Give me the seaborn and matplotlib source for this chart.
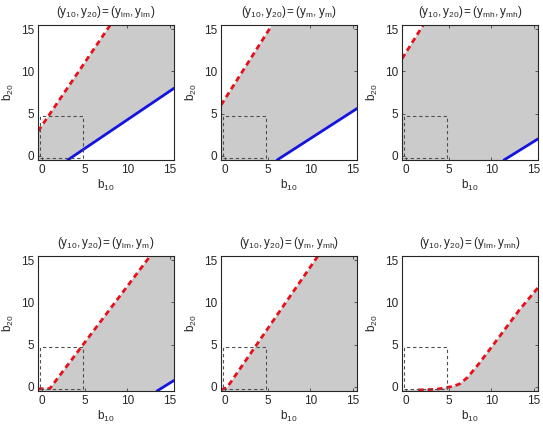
import numpy as np
import matplotlib
matplotlib.use("Agg")
import matplotlib.pyplot as plt
import seaborn as sns

# panel titles (subscripted)
titles = [
    r"$\mathregular{(y_{10},y_{20})=(y_{lm},y_{lm})}$",
    r"$\mathregular{(y_{10},y_{20})=(y_{m},y_{m})}$",
    r"$\mathregular{(y_{10},y_{20})=(y_{mh},y_{mh})}$",
    r"$\mathregular{(y_{10},y_{20})=(y_{lm},y_{m})}$",
    r"$\mathregular{(y_{10},y_{20})=(y_{m},y_{mh})}$",
    r"$\mathregular{(y_{10},y_{20})=(y_{lm},y_{mh})}$",
]

# red dashed boundary (upper side of gray region)
red_x = [
    [-0.5, 8.0],
    [-0.5, 5.5],
    [-0.5, 2.0],
    [-0.5, 0.9, 12.7],
    [-0.5, 0.2, 10.9],
    [1.4, 3.5, 4.7, 5.6, 6.3, 7.2, 8.6, 10.95, 13.3, 15.5],
]
red_y = [
    [2.9, 15.5],
    [6.0, 15.5],
    [11.5, 15.5],
    [-0.25, -0.2, 15.5],
    [-0.35, -0.1, 15.5],
    [-0.38, -0.3, -0.1, 0.08, 0.35, 1.1, 2.8, 5.93, 9.1, 11.75],
]

# blue solid boundary (lower side of gray region), None where absent
blue_x = [[3.0, 15.5], [6.1, 15.5], [11.5, 15.5], [13.5, 15.5], None, None]
blue_y = [[-0.5, 8.0], [-0.5, 5.6], [-0.5, 2.0], [-0.5, 0.75], None, None]

# dashed reference square
box_x = [-0.25, 4.75, 4.75, -0.25, -0.25]
box_y = [-0.25, -0.25, 4.75, 4.75, -0.25]

ticks = [0, 5, 10, 15]

sns.set_theme(style="white")
plt.rcParams["font.family"] = ["Liberation Sans", "DejaVu Sans"]
plt.rcParams["mathtext.fontset"] = "custom"
plt.rcParams["mathtext.rm"] = "Liberation Sans"
plt.rcParams["mathtext.it"] = "Liberation Sans:italic"

GRAY = "#cbcbcb"
RED = "#e8101a"
BLUE = "#1414e0"

fig = plt.figure(figsize=(5.43, 4.24), dpi=100)
lefts = [38 / 543, 221 / 543, 402 / 543]
bottoms = [1 - 160 / 424, 1 - 391 / 424]
W, H = 136 / 543, 135 / 424

for i in range(6):
    r, c = divmod(i, 3)
    ax = fig.add_axes([lefts[c], bottoms[r], W, H])
    ax.set_facecolor(GRAY)

    # white area above the red boundary
    rx, ry = red_x[i], red_y[i]
    px = list(rx) + [rx[-1], -1, -1]
    py = list(ry) + [16, 16, ry[0]]
    ax.fill(px, py, color="white", lw=0, zorder=1)

    # white area below the blue boundary
    if blue_x[i] is not None:
        bx, by = blue_x[i], blue_y[i]
        qx = list(bx) + [16, 16, bx[0]]
        qy = list(by) + [by[-1], -1, -1]
        ax.fill(qx, qy, color="white", lw=0, zorder=1)
        sns.lineplot(x=bx, y=by, ax=ax, color=BLUE, lw=2.0, sort=False,
                     estimator=None, zorder=3)

    sns.lineplot(x=rx, y=ry, ax=ax, color=RED, lw=2.0, sort=False,
                 estimator=None, zorder=3, linestyle=(0, (2.0, 1.4)))

    ax.plot(box_x, box_y, color="#505050", lw=0.8, ls=(0, (3, 2.5)), zorder=4)

    ax.set_xlim(-0.5, 15.5)
    ax.set_ylim(-0.5, 15.5)
    ax.set_xticks(ticks)
    ax.set_yticks(ticks)
    ax.tick_params(direction="in", length=2.5, width=0.5, labelsize=8.5,
                   top=True, right=True, bottom=True, left=True, pad=3,
                   colors="#262626")
    for s in ax.spines.values():
        s.set_color("#262626")
        s.set_linewidth(0.8)
        s.set_zorder(5)
    ax.set_title(titles[i], fontsize=8.5, pad=7)
    ax.set_xlabel(r"$\mathregular{b_{10}}$", fontsize=8.5, labelpad=1.5)
    ax.set_ylabel(r"$\mathregular{b_{20}}$", fontsize=8.5, labelpad=3)

fig.savefig("out.png", dpi=100)
